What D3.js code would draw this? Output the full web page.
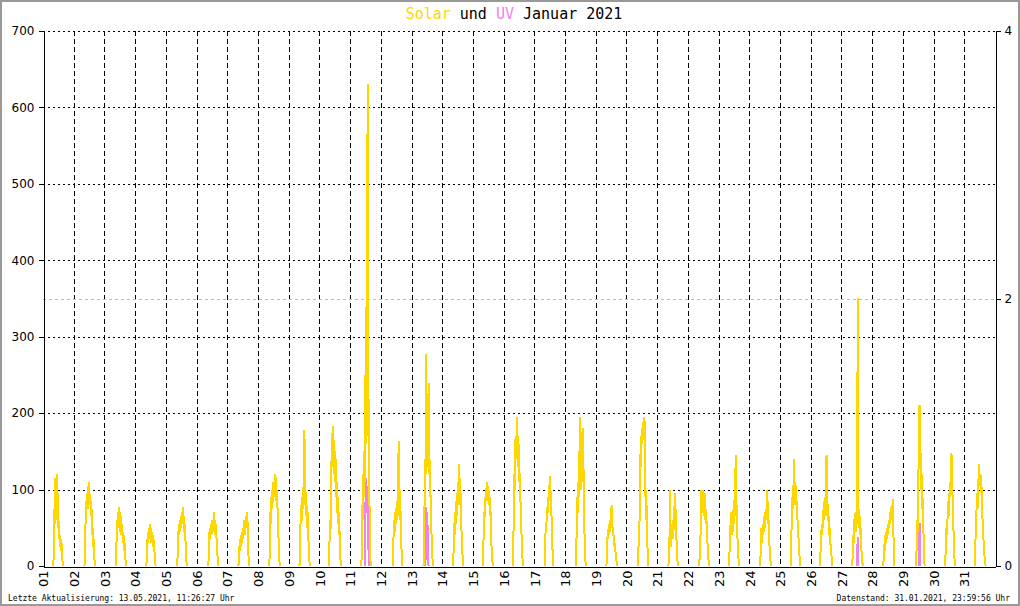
<!DOCTYPE html>
<html><head><meta charset="utf-8">
<script src="https://cdn.jsdelivr.net/npm/d3@7"></script>
<style>
html,body{margin:0;padding:0;background:#fff;}
svg{display:block;}
</style></head>
<body>
<svg id="chart" width="1020" height="606"></svg>
<script>
// ---- data ----
const titleParts = ["Solar", " und ", "UV", " Januar 2021"];
const footerLeft = "Letzte Aktualisierung: 13.05.2021, 11:26:27 Uhr";
const footerRight = "Datenstand: 31.01.2021, 23:59:56 Uhr";
const dayLabels = ["01","02","03","04","05","06","07","08","09","10","11","12","13","14","15","16","17","18","19","20","21","22","23","24","25","26","27","28","29","30","31"];
const solarTicks = [0,100,200,300,400,500,600,700];
const uvTicks = [0,2,4];
// readings every 20 minutes, 07:00 .. 17:00 (31 per day), W/m²
const slotStartHour = 7;
const slotMinutes = 20;
const solarByDay = [
 [0,0,0,5,10,60,75,55,115,70,100,120,60,95,50,75,35,55,30,40,25,35,20,30,10,5,0,0,0,0,0],
 [0,0,0,0,0,5,10,75,60,85,80,95,75,90,110,80,95,85,90,70,85,60,75,40,50,25,35,15,5,0,0],
 [0,0,0,0,0,0,5,25,45,60,50,70,55,77,50,70,45,65,40,55,45,50,35,45,25,40,20,30,10,5,0],
 [0,0,0,0,0,0,5,20,35,45,30,50,40,45,55,35,50,30,45,35,40,25,35,20,25,10,5,0,0,0,0],
 [0,0,0,0,0,0,5,20,35,50,40,55,45,60,50,65,55,70,60,65,77,50,60,40,55,35,20,10,0,0,0],
 [0,0,0,0,0,0,0,5,30,45,35,50,45,55,40,60,50,55,45,65,70,50,60,40,55,45,35,25,15,5,0],
 [0,0,0,0,0,0,5,15,30,20,35,25,40,30,45,35,50,40,60,45,55,40,60,50,65,55,70,45,30,10,0],
 [0,0,0,0,0,0,5,40,70,55,90,75,100,80,110,85,105,90,115,95,120,85,110,80,100,70,60,40,20,10,0],
 [0,0,0,0,0,5,40,60,80,55,90,70,100,75,110,85,178,80,120,70,95,60,80,50,70,40,25,10,5,0,0],
 [0,0,10,40,60,45,80,120,160,140,183,130,170,120,165,110,150,100,140,90,110,70,90,55,70,40,50,25,10,5,0],
 [0,0,0,0,0,0,10,40,80,60,120,90,150,110,200,250,160,220,455,180,630,170,240,130,100,60,20,5,0,0,0],
 [0,0,0,0,0,0,0,0,10,45,60,40,70,50,75,55,80,60,85,65,130,163,70,100,60,80,40,30,15,5,0],
 [0,0,0,0,0,0,0,0,10,60,100,80,150,278,120,180,140,200,130,240,120,150,90,120,70,60,40,20,10,5,0],
 [0,0,0,0,0,5,30,45,60,40,70,55,85,65,95,80,110,90,133,100,115,80,95,60,50,30,20,10,5,0,0],
 [0,0,0,10,40,70,60,90,80,100,85,105,110,90,105,85,100,80,90,65,75,50,35,20,10,5,0,0,0,0,0],
 [0,10,40,80,120,100,150,170,140,165,195,150,170,130,160,110,130,90,100,70,60,40,25,10,5,0,0,0,0,0,0],
 [0,0,0,0,10,40,55,45,70,60,80,70,90,85,100,110,118,95,85,70,50,30,15,5,0,0,0,0,0,0,0],
 [0,0,0,0,0,20,40,60,90,70,110,90,150,120,195,110,150,100,140,110,180,130,140,90,60,30,15,5,0,0,0],
 [0,0,0,0,0,15,30,45,35,50,40,55,45,60,50,55,80,50,55,40,45,35,40,25,30,20,15,10,5,0,0],
 [0,0,0,0,0,0,5,20,40,30,80,100,150,130,170,160,175,185,165,190,195,175,190,90,100,60,80,50,30,10,0],
 [0,0,0,0,0,0,5,25,40,100,30,50,25,45,55,35,60,40,65,50,95,60,75,45,40,20,10,5,0,0,0],
 [0,0,0,0,0,0,5,20,35,45,100,75,95,80,100,70,90,65,95,60,80,55,75,50,40,30,20,10,5,0,0],
 [0,0,0,0,10,25,40,55,70,45,60,40,65,45,75,55,85,90,100,145,65,80,45,40,25,15,5,0,0,0,0],
 [0,0,0,0,0,5,35,50,40,30,50,40,55,45,65,50,70,60,75,65,100,70,85,55,60,40,30,20,10,5,0],
 [0,0,0,0,0,20,50,70,90,75,100,110,140,95,80,110,85,105,70,85,60,55,40,30,20,10,5,0,0,0,0],
 [0,5,20,35,45,55,40,65,50,75,60,85,70,90,65,85,145,75,90,60,80,50,65,40,50,30,25,20,10,5,0],
 [0,0,0,0,0,10,25,40,30,55,65,50,70,45,65,80,60,350,90,55,75,50,65,40,50,30,20,10,5,0,0],
 [0,0,0,0,0,0,10,20,30,20,40,30,45,35,50,40,55,45,60,50,65,55,70,60,75,80,65,85,88,40,0],
 [0,0,0,0,0,0,0,0,0,0,5,20,40,60,45,100,140,180,210,150,170,110,100,120,75,90,55,50,30,10,0],
 [0,0,0,0,0,0,5,15,30,45,60,40,70,85,65,95,80,110,90,115,120,148,100,105,75,60,40,20,10,0,0],
 [0,0,0,0,10,30,45,60,80,95,75,100,110,120,133,105,115,120,95,115,85,80,55,50,35,25,15,10,5,0,0]
];
// UV index episodes (day, first 20-min slot, values)
const uvDays = [11, 13, 27, 29];
const uvStartSlots = [14, 12, 16, 17];
const uvValues = [
 [0.1,0.45,0.66,0.5,0.6,0.4,0.55,0.37,0.15],
 [0.05,0.44,0.15,0.3,0.4,0.2,0.05],
 [0.05,0.22,0.1],
 [0.1,0.32,0.15]
];

// ---- drawing ----
const svg = d3.select("#chart");
const x = d3.scaleLinear().domain([0, 31]).range([43, 995]);
const y = d3.scaleLinear().domain([0, 700]).range([566, 31]);
const yUV = d3.scaleLinear().domain([0, 4]).range([566, 31]);
const SOLAR = "#ffd700", UV = "#ee82ee";

svg.append("rect").attr("x",1).attr("y",1).attr("width",1018).attr("height",604)
  .attr("fill","#fff").attr("stroke","#999").attr("stroke-width",2);

// grid
const grid = svg.append("g").attr("shape-rendering","crispEdges");
grid.selectAll("line.h").data(solarTicks.filter(d=>d>0)).join("line")
  .attr("x1", x(0)).attr("x2", x(31))
  .attr("y1", d=>Math.round(y(d))+0.5).attr("y2", d=>Math.round(y(d))+0.5)
  .attr("stroke","#000").attr("stroke-dasharray","2,3");
grid.selectAll("line.v").data(d3.range(1,31)).join("line")
  .attr("x1", d=>Math.round(x(d))+0.5).attr("x2", d=>Math.round(x(d))+0.5)
  .attr("y1", y(700)).attr("y2", y(0))
  .attr("stroke","#000").attr("stroke-dasharray","5,3");
grid.append("line")
  .attr("x1", x(0)).attr("x2", x(31))
  .attr("y1", Math.round(yUV(2))+0.5).attr("y2", Math.round(yUV(2))+0.5)
  .attr("stroke","#bbb").attr("stroke-dasharray","3,3");

// axes
const fontLbl = "DejaVu Sans, sans-serif";
const gL = svg.append("g").attr("transform","translate(43.5,0)")
  .call(d3.axisLeft(y).tickValues(solarTicks).tickSize(5).tickSizeOuter(0).tickPadding(4));
const gR = svg.append("g").attr("transform","translate(995.5,0)")
  .call(d3.axisRight(yUV).tickValues(uvTicks).tickFormat(d3.format("d")).tickSize(5).tickSizeOuter(0).tickPadding(4));
const gB = svg.append("g").attr("transform","translate(0,566.5)")
  .call(d3.axisBottom(x).tickValues(d3.range(0,31)).tickFormat((d,i)=>dayLabels[i]).tickSize(0).tickSizeOuter(0));
[gL,gR,gB].forEach(g=>{
  g.attr("shape-rendering","crispEdges");
  g.selectAll("path.domain").attr("stroke","#000");
  g.selectAll(".tick line").attr("stroke","#000");
  g.selectAll("text").attr("font-family",fontLbl).attr("font-size","12px").attr("fill","#000");
});
gB.selectAll(".tick text")
  .attr("font-size","13px")
  .attr("transform","rotate(-90)")
  .attr("text-anchor","end")
  .attr("x",-4).attr("y",0).attr("dy","0.36em");

// series helpers
function slotTime(day, i){ return (day-1) + (slotStartHour + i*slotMinutes/60)/24; }
const line = d3.line().x(d=>x(d.t)).y(d=>d.s(d.v)).curve(d3.curveLinear);

// UV (drawn first)
const uvG = svg.append("g").attr("shape-rendering","crispEdges");
uvDays.forEach((day,k)=>{
  const s = uvStartSlots[k];
  const pts = [{t:slotTime(day,s-1),v:0,s:yUV}]
    .concat(uvValues[k].map((v,j)=>({t:slotTime(day,s+j),v:v,s:yUV})))
    .concat([{t:slotTime(day,s+uvValues[k].length),v:0,s:yUV}]);
  uvG.append("path").attr("d", line(pts)).attr("fill","none")
    .attr("stroke",UV).attr("stroke-width",2);
});

// Solar
const solG = svg.append("g").attr("shape-rendering","crispEdges");
solarByDay.forEach((vals,k)=>{
  const day = k+1;
  let first = vals.findIndex(v=>v>0), last = vals.length-1;
  while(last>0 && vals[last]===0) last--;
  first = Math.max(0, first-1); last = Math.min(vals.length-1, last+1);
  const pts = [];
  for(let i=first;i<=last;i++) pts.push({t:slotTime(day,i), v:vals[i], s:y});
  solG.append("path").attr("d", line(pts)).attr("fill","none")
    .attr("stroke",SOLAR).attr("stroke-width",2);
});

// title
const title = svg.append("text").attr("x",514).attr("y",19).attr("text-anchor","middle")
  .attr("font-family","DejaVu Sans Mono, monospace").attr("font-size","15px").attr("xml:space","preserve");
const tColors = [SOLAR, "#000", UV, "#000"];
titleParts.forEach((t,i)=>title.append("tspan").attr("fill",tColors[i]).text(t));

// footer
svg.append("text").attr("x",8).attr("y",601)
  .attr("font-family","DejaVu Sans Mono, monospace").attr("font-size","8px").attr("fill","#000")
  .text(footerLeft);
svg.append("text").attr("x",1010).attr("y",601).attr("text-anchor","end")
  .attr("font-family","DejaVu Sans Mono, monospace").attr("font-size","8px").attr("fill","#000")
  .text(footerRight);
</script>
</body></html>
